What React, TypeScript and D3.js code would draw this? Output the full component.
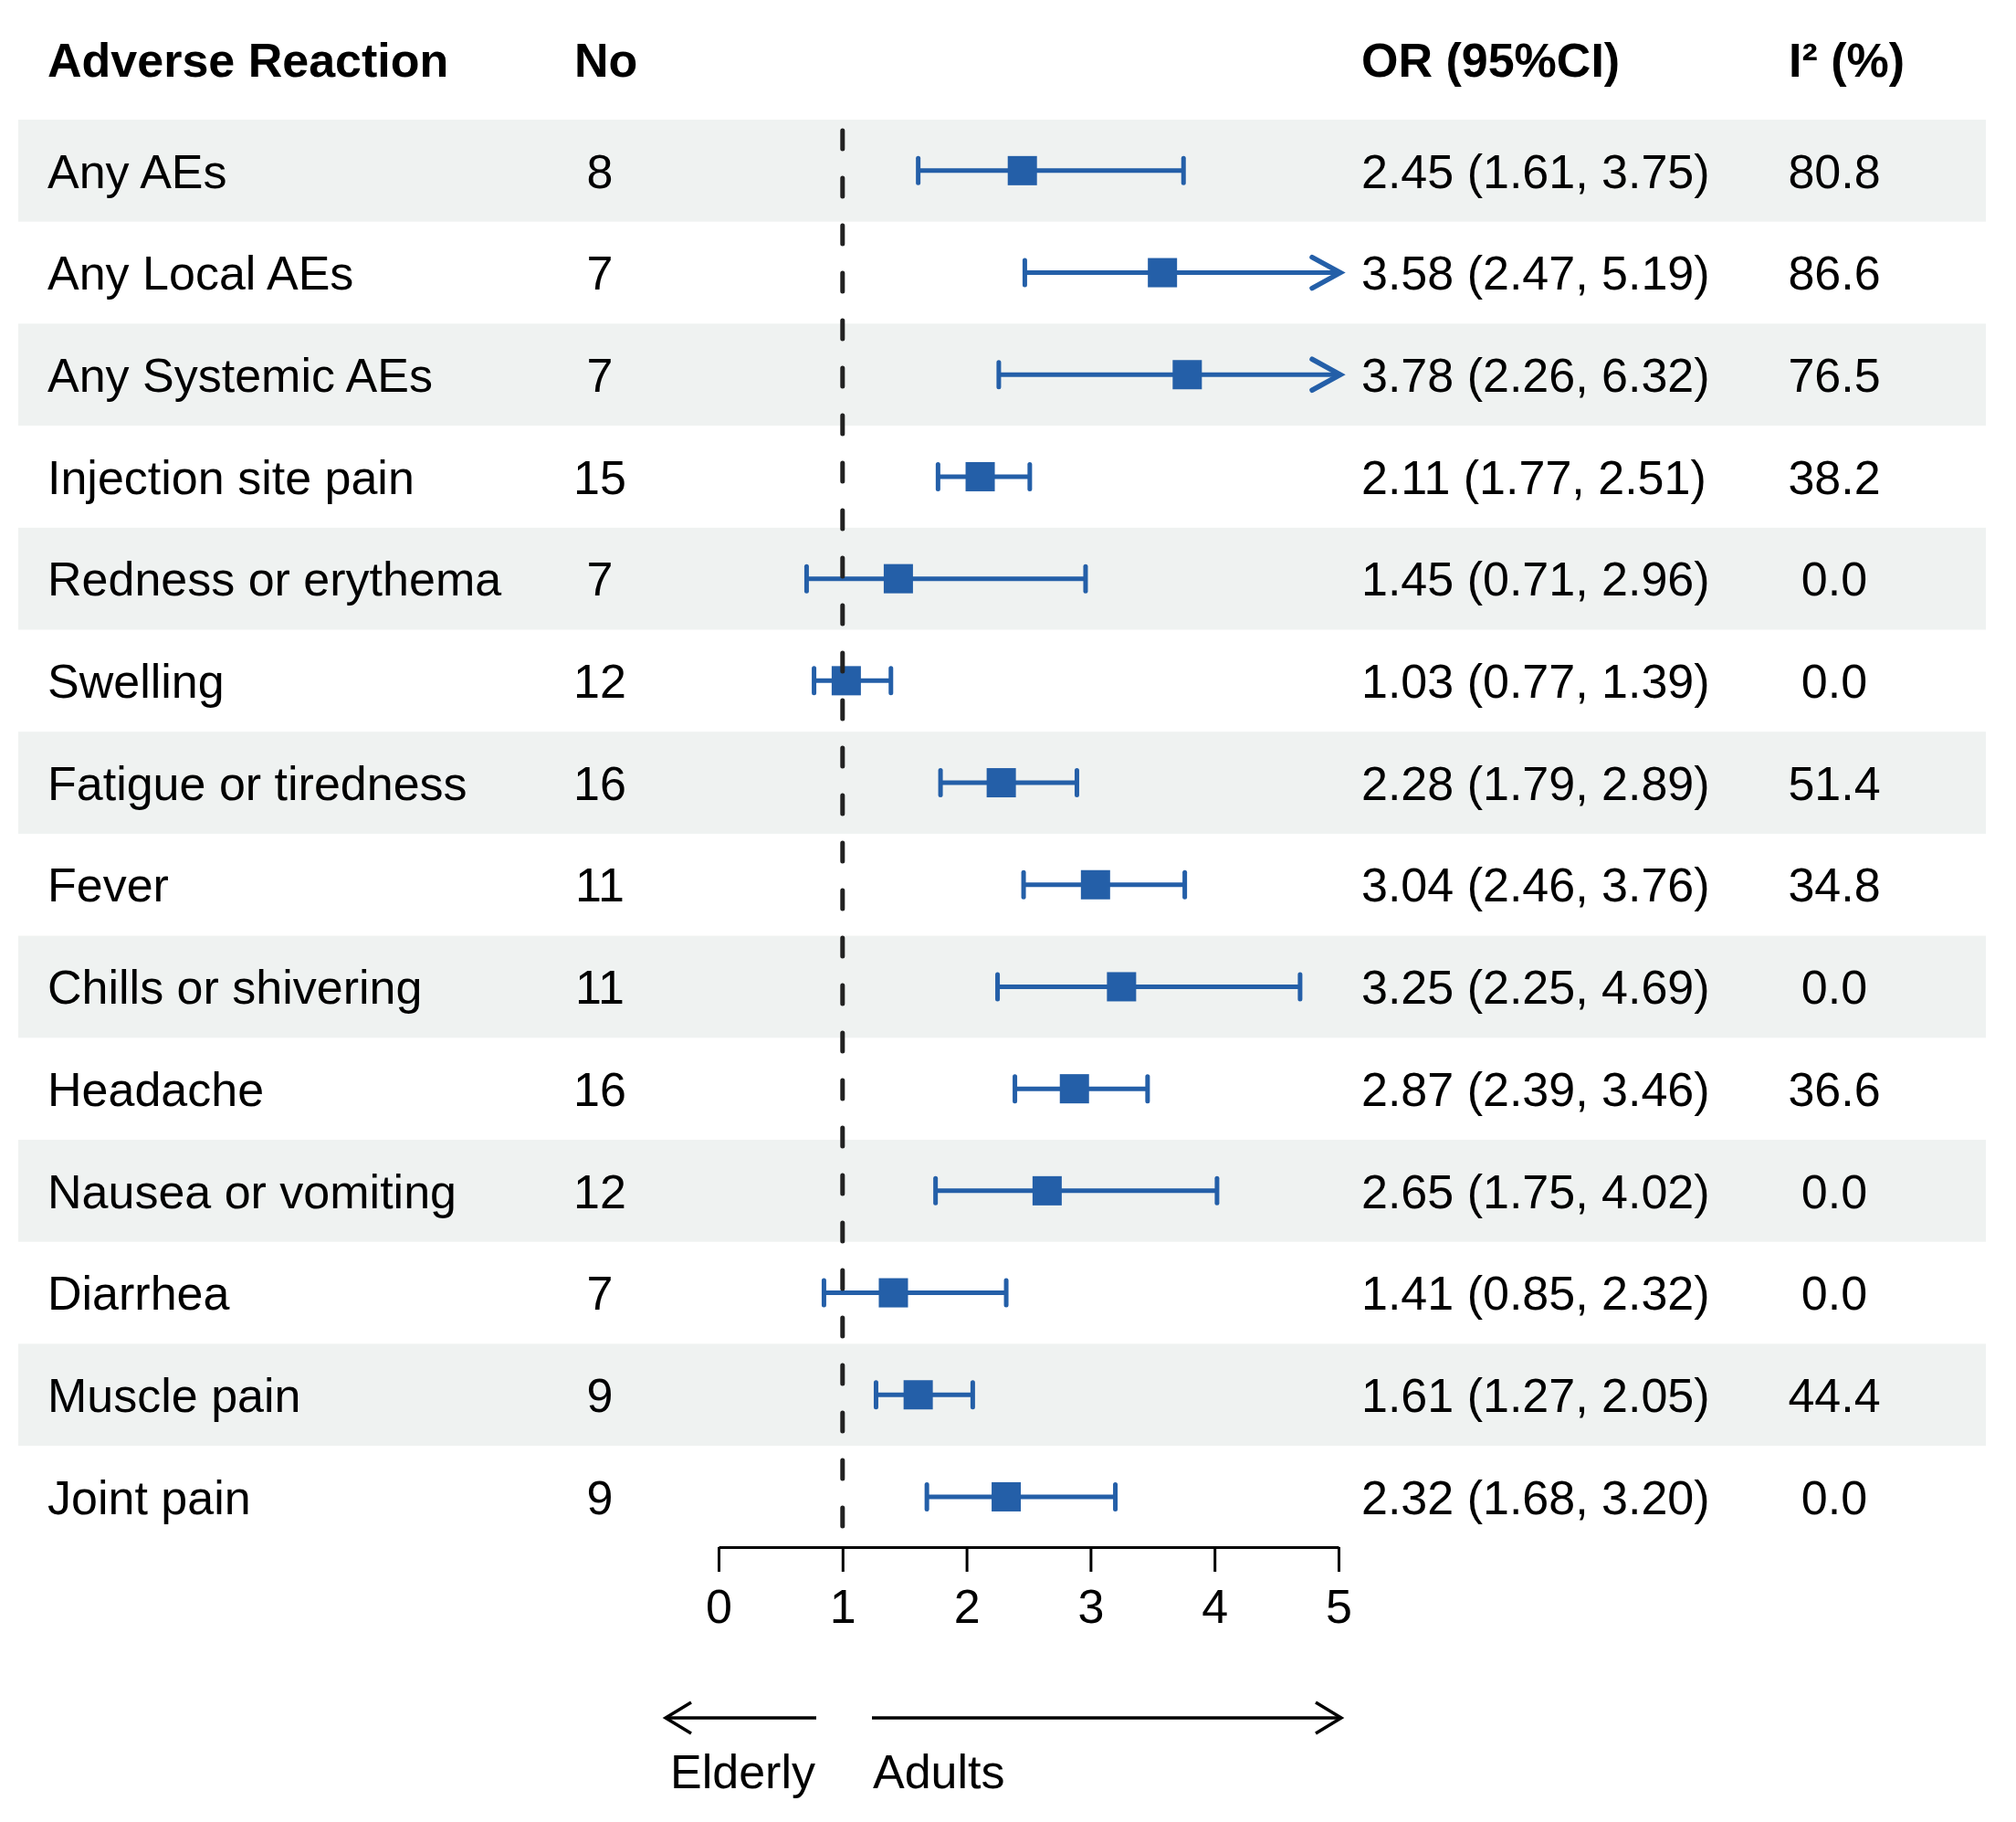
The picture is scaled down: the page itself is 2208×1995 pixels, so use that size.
import { useRef, useEffect } from "react";
import * as d3 from "d3";

const reactions = [
  "Any AEs",
  "Any Local AEs",
  "Any Systemic AEs",
  "Injection site pain",
  "Redness or erythema",
  "Swelling",
  "Fatigue or tiredness",
  "Fever",
  "Chills or shivering",
  "Headache",
  "Nausea or vomiting",
  "Diarrhea",
  "Muscle pain",
  "Joint pain",
];
const studies = [8, 7, 7, 15, 7, 12, 16, 11, 11, 16, 12, 7, 9, 9];
const orValues = [2.45, 3.58, 3.78, 2.11, 1.45, 1.03, 2.28, 3.04, 3.25, 2.87, 2.65, 1.41, 1.61, 2.32];
const lowerCI = [1.61, 2.47, 2.26, 1.77, 0.71, 0.77, 1.79, 2.46, 2.25, 2.39, 1.75, 0.85, 1.27, 1.68];
const upperCI = [3.75, 5.19, 6.32, 2.51, 2.96, 1.39, 2.89, 3.76, 4.69, 3.46, 4.02, 2.32, 2.05, 3.2];
const iSquared = ["80.8", "86.6", "76.5", "38.2", "0.0", "0.0", "51.4", "34.8", "0.0", "36.6", "0.0", "0.0", "44.4", "0.0"];
const axisTicks = [0, 1, 2, 3, 4, 5];

const W = 2208;
const H = 1995;
const FS = 52;
const FONT = "'Liberation Sans', Arial, Helvetica, sans-serif";
const BLUE = "#245fa8";
const BAND = "#eff2f1";

export default function App() {
  const svgRef = useRef(null);

  useEffect(() => {
    const svg = d3.select(svgRef.current);
    svg.selectAll("*").remove();

    const x = d3.scaleLinear().domain([0, 5]).range([787, 1466]);
    const y = d3.scaleBand().domain(reactions).range([131, 131 + 14 * 111.7]).padding(0);
    const yc = (r) => y(r) + y.bandwidth() / 2;
    const base = FS * 0.36;

    const rows = reactions.map((r, i) => ({
      r,
      n: studies[i],
      or: orValues[i],
      lo: lowerCI[i],
      hi: upperCI[i],
      i2: iSquared[i],
      i,
    }));

    // stripes
    svg
      .append("g")
      .selectAll("rect")
      .data(rows.filter((d) => d.i % 2 === 0))
      .enter()
      .append("rect")
      .attr("x", 20)
      .attr("width", 2155)
      .attr("y", (d) => y(d.r))
      .attr("height", y.bandwidth())
      .attr("fill", BAND);

    // headers
    const head = svg
      .append("g")
      .attr("font-family", FONT)
      .attr("font-size", FS)
      .attr("font-weight", "bold")
      .attr("fill", "#000");
    head.append("text").attr("x", 52).attr("y", 65 + base).text("Adverse Reaction");
    head.append("text").attr("x", 629).attr("y", 65 + base).text("No");
    head.append("text").attr("x", 1491).attr("y", 65 + base).text("OR (95%CI)");
    head.append("text").attr("x", 1959).attr("y", 65 + base).text("I² (%)");

    // table text
    const txt = svg.append("g").attr("font-family", FONT).attr("font-size", FS).attr("fill", "#000");
    const cells = txt.selectAll("g").data(rows).enter().append("g");
    cells.append("text").attr("x", 52).attr("y", (d) => yc(d.r) + base).text((d) => d.r);
    cells
      .append("text")
      .attr("x", 657)
      .attr("text-anchor", "middle")
      .attr("y", (d) => yc(d.r) + base)
      .text((d) => d.n);
    cells
      .append("text")
      .attr("x", 1491)
      .attr("y", (d) => yc(d.r) + base)
      .text((d) => `${d.or.toFixed(2)} (${d.lo.toFixed(2)}, ${d.hi.toFixed(2)})`);
    cells
      .append("text")
      .attr("x", 2009)
      .attr("text-anchor", "middle")
      .attr("y", (d) => yc(d.r) + base)
      .text((d) => d.i2);

    // CIs
    const ci = svg.append("g").attr("stroke", BLUE).attr("fill", "none").attr("stroke-width", 5);
    const cap = 13.5;
    const xMax = 5;
    ci.selectAll("line.ci")
      .data(rows)
      .enter()
      .append("line")
      .attr("class", "ci")
      .attr("x1", (d) => x(d.lo))
      .attr("x2", (d) => x(Math.min(d.hi, xMax)))
      .attr("y1", (d) => yc(d.r))
      .attr("y2", (d) => yc(d.r));
    ci.selectAll("line.lo")
      .data(rows)
      .enter()
      .append("line")
      .attr("stroke-linecap", "round")
      .attr("x1", (d) => x(d.lo))
      .attr("x2", (d) => x(d.lo))
      .attr("y1", (d) => yc(d.r) - cap)
      .attr("y2", (d) => yc(d.r) + cap);
    ci.selectAll("line.hi")
      .data(rows.filter((d) => d.hi <= xMax))
      .enter()
      .append("line")
      .attr("stroke-linecap", "round")
      .attr("x1", (d) => x(d.hi))
      .attr("x2", (d) => x(d.hi))
      .attr("y1", (d) => yc(d.r) - cap)
      .attr("y2", (d) => yc(d.r) + cap);
    ci.selectAll("path.arrow")
      .data(rows.filter((d) => d.hi > xMax))
      .enter()
      .append("path")
      .attr("stroke-width", 5.5)
      .attr("stroke-linecap", "round")
      .attr("stroke-linejoin", "miter")
      .attr("d", (d) => {
        const tx = x(xMax) + 2;
        const ty = yc(d.r);
        return `M${tx - 31},${ty - 17}L${tx},${ty}L${tx - 31},${ty + 17}`;
      });

    const sq = 32;
    svg
      .append("g")
      .selectAll("rect")
      .data(rows)
      .enter()
      .append("rect")
      .attr("x", (d) => x(d.or) - sq / 2)
      .attr("y", (d) => yc(d.r) - sq / 2)
      .attr("width", sq)
      .attr("height", sq)
      .attr("fill", BLUE);

    // null line
    svg
      .append("line")
      .attr("x1", x(1))
      .attr("x2", x(1))
      .attr("y1", 143)
      .attr("y2", 1683)
      .attr("stroke", "#222")
      .attr("stroke-width", 5)
      .attr("stroke-linecap", "round")
      .attr("stroke-dasharray", "20 32");

    // axis
    const axis = svg
      .append("g")
      .attr("transform", "translate(0,1694)")
      .call(d3.axisBottom(x).tickValues(axisTicks).tickSize(27).tickSizeOuter(0).tickPadding(19).tickFormat(d3.format("d")));
    axis.select(".domain").attr("stroke", "#000").attr("stroke-width", 3);
    axis.selectAll(".tick line").attr("stroke", "#000").attr("stroke-width", 3);
    axis.selectAll(".tick text").attr("font-family", FONT).attr("font-size", FS).attr("fill", "#000");

    // direction arrows
    const dir = svg.append("g").attr("stroke", "#000").attr("fill", "none").attr("stroke-width", 3.5);
    const ay = 1881;
    dir.append("line").attr("x1", 894).attr("x2", 729).attr("y1", ay).attr("y2", ay);
    dir.append("path").attr("d", `M${729 + 28},${ay - 17}L729,${ay}L${729 + 28},${ay + 17}`);
    dir.append("line").attr("x1", 955).attr("x2", 1469).attr("y1", ay).attr("y2", ay);
    dir.append("path").attr("d", `M${1469 - 28},${ay - 17}L1469,${ay}L${1469 - 28},${ay + 17}`);

    const lab = svg.append("g").attr("font-family", FONT).attr("font-size", FS).attr("fill", "#000");
    lab.append("text").attr("x", 734).attr("y", 1939 + base).text("Elderly");
    lab.append("text").attr("x", 956).attr("y", 1939 + base).text("Adults");
  }, []);

  return (
    <svg
      ref={svgRef}
      width={W}
      height={H}
      style={{ position: "absolute", left: 0, top: 0, background: "#fff", display: "block" }}
    />
  );
}
